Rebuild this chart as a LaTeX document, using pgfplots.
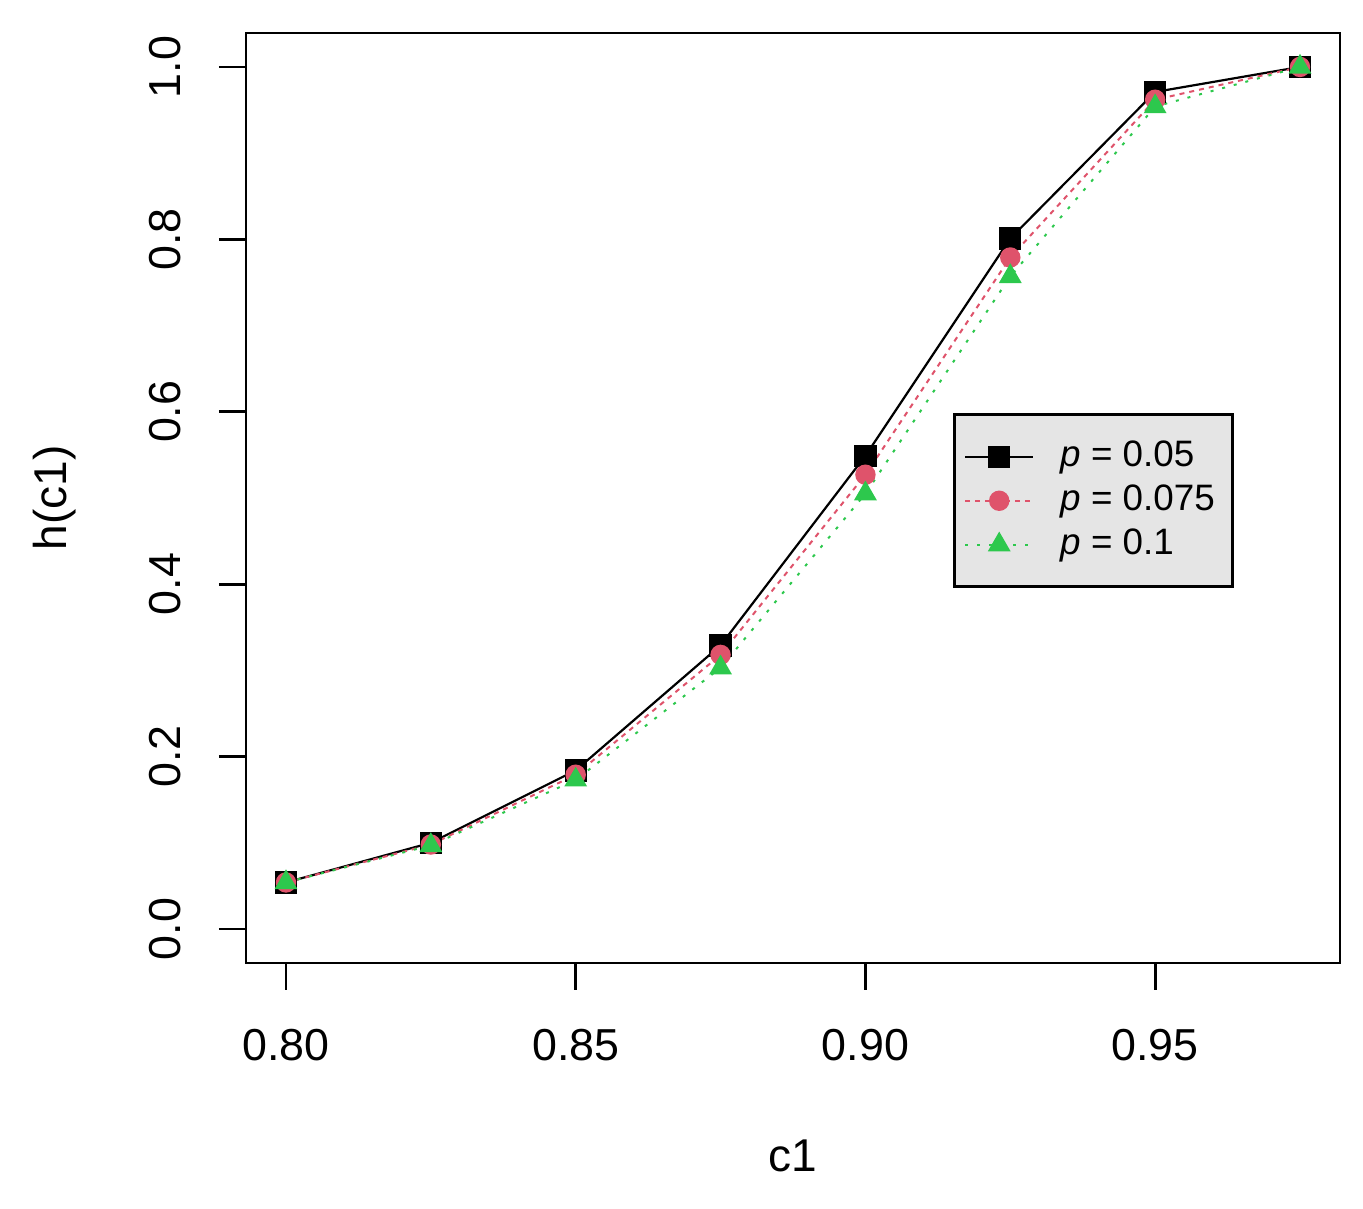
\documentclass[border=0pt]{standalone}
\usepackage{fontspec}
\setmainfont{Liberation Sans}
\usepackage{pgfplots}
\pgfplotsset{compat=1.18}
\definecolor{rred}{HTML}{DF536B}
\definecolor{rgreen}{HTML}{2DC84D}
\definecolor{legbg}{HTML}{E5E5E5}

\begin{document}
\begin{tikzpicture}
\begin{axis}[
scale only axis,
width=273.5pt,height=232.5pt,
xmin=0.7931,xmax=0.9819,
ymin=-0.0394,ymax=1.0394,
axis line style={line width=0.7pt},
tick pos=left,tick align=outside,
major tick length=6.75pt,
tick style={line width=0.7pt,black},
xtick={0.80,0.85,0.90,0.95},
xticklabels={0.80,0.85,0.90,0.95},
ytick={0,0.2,0.4,0.6,0.8,1.0},
yticklabels={0.0,0.2,0.4,0.6,0.8,1.0},
/pgf/number format/assume math mode=true,
tick label style={font=\fontsize{11.2}{13}\selectfont,inner sep=0pt},
xticklabel style={anchor=north},
xticklabel shift=9.5pt,
yticklabel style={rotate=90,anchor=south},
yticklabel shift=9.25pt,
xlabel={c1},ylabel={h(c1)},
label style={font=\fontsize{11.5}{13}\selectfont,inner sep=0pt},
xlabel style={at={(axis description cs:0.5,-0.2247)},anchor=base},
ylabel style={at={(axis description cs:-0.1644,0.5)},anchor=base,rotate=0},
legend style={at={(axis description cs:0.646,0.591)},anchor=north west,
  fill=legbg,draw=black,line width=0.7pt,
  font=\fontsize{9.2}{10}\selectfont,
  nodes={inner sep=0pt,text height=7pt,text depth=2pt},
  inner xsep=2.5pt,inner ysep=6pt,
  column sep=6.5pt,row sep=2pt},
legend cell align=left,
legend image code/.code={
  \draw[#1] (0pt,0pt) -- (17pt,0pt);
  \draw[#1,solid] plot coordinates {(8.5pt,0pt)};
},
]
\addplot[black,line width=0.55pt,mark=square*,mark size=2.5pt,mark options={solid,fill=black}]
coordinates {(0.8,0.054)(0.825,0.100)(0.85,0.184)(0.875,0.329)(0.9,0.549)(0.925,0.801)(0.95,0.971)(0.975,1.0)};
\addlegendentry{\textit{p} = 0.05}
\addplot[rred,line width=0.5pt,dash pattern=on 1.25pt off 1.25pt,mark=*,mark size=2.3pt,mark options={solid,fill=rred}]
coordinates {(0.8,0.054)(0.825,0.098)(0.85,0.179)(0.875,0.318)(0.9,0.527)(0.925,0.779)(0.95,0.962)(0.975,1.0)};
\addlegendentry{\textit{p} = 0.075\hspace*{2pt}}
\addplot[rgreen,line width=0.5pt,dash pattern=on 0.75pt off 2.25pt,mark=triangle*,mark size=2.8pt,mark options={solid,fill=rgreen}]
coordinates {(0.8,0.054)(0.825,0.097)(0.85,0.173)(0.875,0.303)(0.9,0.505)(0.925,0.757)(0.95,0.954)(0.975,1.0)};
\addlegendentry{\textit{p} = 0.1}
\coordinate (sw) at (rel axis cs:0,0);
\coordinate (ne) at (rel axis cs:1,1);
\end{axis}
\pgfresetboundingbox
\path ([shift={(-61.5pt,-61.5pt)}]sw) rectangle ([shift={(5.75pt,8.25pt)}]ne);
\end{tikzpicture}
\end{document}
